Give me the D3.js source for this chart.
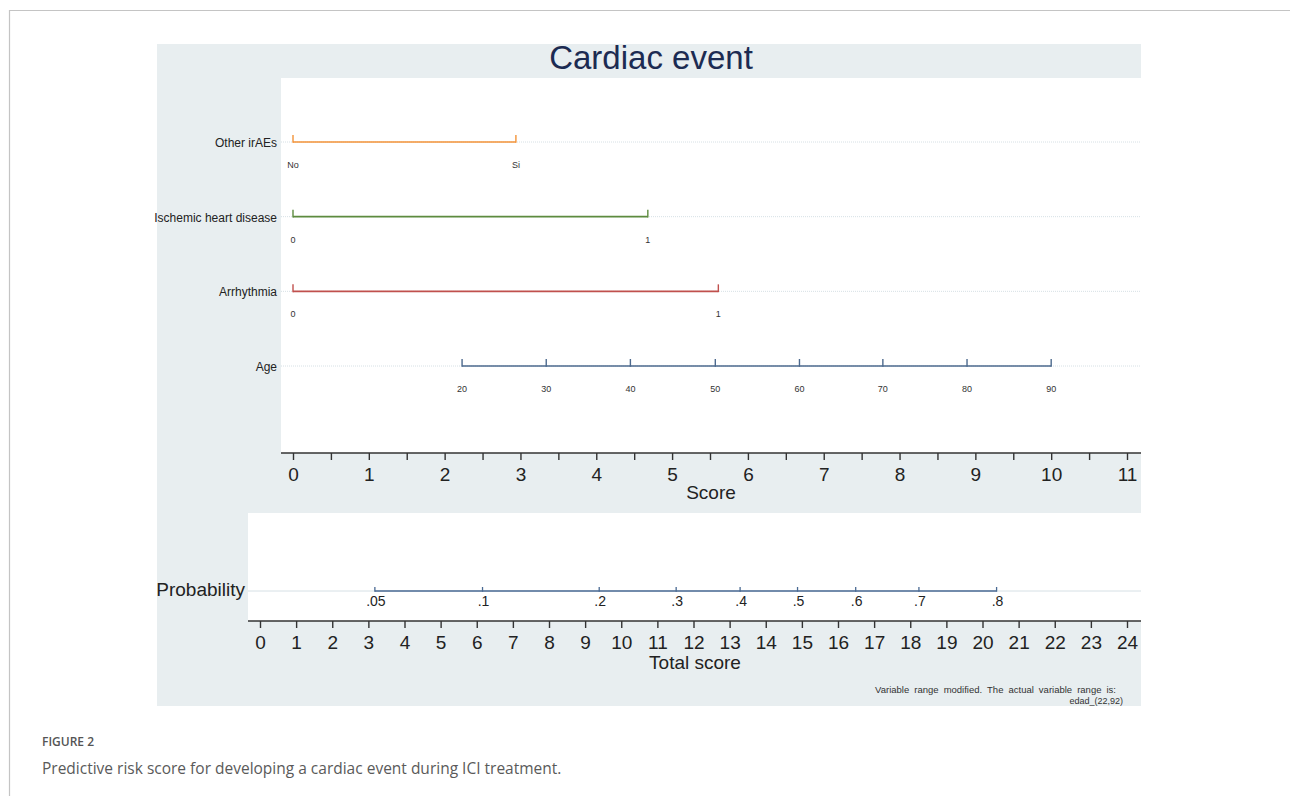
<!DOCTYPE html>
<html lang="en">
<head>
    <meta charset="UTF-8">
    <title>Cardiac event nomogram</title>
    <style>
        body, html {
            margin: 0;
            padding: 0;
            background: #fff;
            font-family: "Liberation Sans", Arial, sans-serif;
        }
        #chart { width: 1290px; height: 796px; }
        .axis text { font-family: "Liberation Sans", Arial, sans-serif; fill: #222; }
    </style>
    <script src="https://d3js.org/d3.v7.min.js"></script>
</head>
<body>
    <div id="chart"></div>
    <script>
        // predictors, top to bottom
        const rowNames = ["Other irAEs", "Ischemic heart disease", "Arrhythmia", "Age"];
        const rowColors = ["#f39339", "#5d8b3f", "#c0504d", "#4d6a8e"];

        // level labels and the score each level sits at
        const otherLevels = ["No", "Si"];
        const otherScores = [0, 2.94];
        const ischemicLevels = ["0", "1"];
        const ischemicScores = [0, 4.68];
        const arrhythmiaLevels = ["0", "1"];
        const arrhythmiaScores = [0, 5.61];
        const ageLevels = ["20", "30", "40", "50", "60", "70", "80", "90"];
        const ageScores = [2.23, 3.34, 4.45, 5.57, 6.68, 7.78, 8.89, 10.0];

        // probability scale against the total score
        const probLabels = [".05", ".1", ".2", ".3", ".4", ".5", ".6", ".7", ".8"];
        const probTotals = [3.18, 6.16, 9.39, 11.52, 13.29, 14.88, 16.49, 18.24, 20.39];

        const scoreMax = 11;
        const totalMax = 24;

        const rows = [
            { levels: otherLevels, scores: otherScores },
            { levels: ischemicLevels, scores: ischemicScores },
            { levels: arrhythmiaLevels, scores: arrhythmiaScores },
            { levels: ageLevels, scores: ageScores }
        ];

        const width = 1290, height = 796;
        const svg = d3.select("#chart").append("svg")
            .attr("width", width)
            .attr("height", height);

        // page frame
        svg.append("path")
            .attr("d", "M9.5,796 V10.5 H1290")
            .attr("fill", "none")
            .attr("stroke", "#c4c4c4")
            .attr("stroke-width", 1.2);

        // graph region
        svg.append("rect")
            .attr("x", 157).attr("y", 44)
            .attr("width", 984).attr("height", 662)
            .attr("fill", "#e8eef0");

        svg.append("text")
            .attr("x", 651).attr("y", 69)
            .attr("text-anchor", "middle")
            .style("font-size", "33px")
            .style("fill", "#1c2b52")
            .text("Cardiac event");

        // ---------- upper panel: points ----------
        const plotLeft = 281, plotRight = 1141, plotTop = 78, axisY = 453;
        svg.append("rect")
            .attr("x", plotLeft).attr("y", plotTop)
            .attr("width", plotRight - plotLeft).attr("height", axisY - plotTop)
            .attr("fill", "#fff");

        const scoreX = d3.scaleLinear().domain([0, scoreMax]).range([293, 1127]);
        const rowY = d3.scalePoint().domain(rowNames).range([142, 366]);

        // faint row guides
        svg.selectAll(".guide")
            .data(rowNames)
            .join("line")
            .attr("class", "guide")
            .attr("x1", plotLeft).attr("x2", plotRight)
            .attr("y1", d => rowY(d)).attr("y2", d => rowY(d))
            .attr("stroke", "#d6e0e5")
            .attr("stroke-dasharray", "1,1");

        svg.selectAll(".rowLabel")
            .data(rowNames)
            .join("text")
            .attr("class", "rowLabel")
            .attr("x", 277)
            .attr("y", d => rowY(d) + 5)
            .attr("text-anchor", "end")
            .style("font-size", "12px")
            .style("fill", "#222")
            .text(d => d);

        rows.forEach((r, i) => {
            const y = rowY(rowNames[i]);
            const g = svg.append("g");
            g.append("line")
                .attr("x1", scoreX(d3.min(r.scores)))
                .attr("x2", scoreX(d3.max(r.scores)))
                .attr("y1", y).attr("y2", y)
                .attr("stroke", rowColors[i])
                .attr("stroke-width", 1.6);
            g.selectAll("line.tk")
                .data(r.scores)
                .join("line")
                .attr("class", "tk")
                .attr("x1", d => scoreX(d)).attr("x2", d => scoreX(d))
                .attr("y1", y + 0.8).attr("y2", y - 7)
                .attr("stroke", rowColors[i])
                .attr("stroke-width", 1.4);
            g.selectAll("text")
                .data(r.levels)
                .join("text")
                .attr("x", (d, j) => scoreX(r.scores[j]))
                .attr("y", y + 26)
                .attr("text-anchor", "middle")
                .style("font-size", "9px")
                .style("fill", "#333")
                .text(d => d);
        });

        // score axis
        svg.append("line")
            .attr("x1", plotLeft).attr("x2", plotRight)
            .attr("y1", axisY).attr("y2", axisY)
            .attr("stroke", "#333").attr("stroke-width", 1.4);

        const scoreAxis = d3.axisBottom(scoreX)
            .tickValues(d3.range(0, scoreMax + 0.5, 0.5))
            .tickFormat(d => Number.isInteger(d) ? d : "")
            .tickSize(7)
            .tickSizeOuter(0)
            .tickPadding(8);

        const sa = svg.append("g")
            .attr("class", "axis")
            .attr("transform", `translate(0,${axisY})`)
            .call(scoreAxis);
        sa.select(".domain").remove();
        sa.selectAll("line").attr("stroke", "#333").attr("stroke-width", 1.4);
        sa.selectAll("text").style("font-size", "19px");

        svg.append("text")
            .attr("x", 711).attr("y", 499)
            .attr("text-anchor", "middle")
            .style("font-size", "19px")
            .style("fill", "#222")
            .text("Score");

        // ---------- lower panel: total score and probability ----------
        const lowLeft = 248, lowTop = 513, lowAxisY = 621, probY = 591;
        svg.append("rect")
            .attr("x", lowLeft).attr("y", lowTop)
            .attr("width", plotRight - lowLeft).attr("height", lowAxisY - lowTop)
            .attr("fill", "#fff");

        const totalX = d3.scaleLinear().domain([0, totalMax]).range([260, 1127]);

        svg.append("line")
            .attr("x1", lowLeft).attr("x2", plotRight)
            .attr("y1", probY).attr("y2", probY)
            .attr("stroke", "#d6e0e5");

        svg.append("text")
            .attr("x", 245).attr("y", 596)
            .attr("text-anchor", "end")
            .style("font-size", "19px")
            .style("fill", "#222")
            .text("Probability");

        svg.append("line")
            .attr("x1", totalX(d3.min(probTotals)))
            .attr("x2", totalX(d3.max(probTotals)))
            .attr("y1", probY).attr("y2", probY)
            .attr("stroke", "#4a6a93")
            .attr("stroke-width", 1.5);

        svg.selectAll(".probTick")
            .data(probTotals)
            .join("line")
            .attr("class", "probTick")
            .attr("x1", d => totalX(d)).attr("x2", d => totalX(d))
            .attr("y1", probY + 0.7).attr("y2", probY - 4)
            .attr("stroke", "#4a6a93")
            .attr("stroke-width", 1.3);

        svg.selectAll(".probLabel")
            .data(probLabels)
            .join("text")
            .attr("class", "probLabel")
            .attr("x", (d, i) => totalX(probTotals[i]) + 1)
            .attr("y", probY + 15)
            .attr("text-anchor", "middle")
            .style("font-size", "14px")
            .style("fill", "#222")
            .text(d => d);

        svg.append("line")
            .attr("x1", lowLeft).attr("x2", plotRight)
            .attr("y1", lowAxisY).attr("y2", lowAxisY)
            .attr("stroke", "#333").attr("stroke-width", 1.4);

        const totalAxis = d3.axisBottom(totalX)
            .ticks(totalMax)
            .tickFormat(d3.format("d"))
            .tickSize(7)
            .tickSizeOuter(0)
            .tickPadding(8);

        const ta = svg.append("g")
            .attr("class", "axis")
            .attr("transform", `translate(0,${lowAxisY})`)
            .call(totalAxis);
        ta.select(".domain").remove();
        ta.selectAll("line").attr("stroke", "#333").attr("stroke-width", 1.4);
        ta.selectAll("text").style("font-size", "19px");

        svg.append("text")
            .attr("x", 695).attr("y", 669)
            .attr("text-anchor", "middle")
            .style("font-size", "19px")
            .style("fill", "#222")
            .text("Total score");

        // note
        svg.append("text")
            .attr("x", 1116).attr("y", 693)
            .attr("text-anchor", "end")
            .style("font-size", "9.5px")
            .style("word-spacing", "2.4px")
            .style("fill", "#333")
            .text("Variable range modified.  The actual  variable range is:");
        svg.append("text")
            .attr("x", 1123).attr("y", 704)
            .attr("text-anchor", "end")
            .style("font-size", "9px")
            .style("fill", "#333")
            .text("edad_(22,92)");

        // caption
        svg.append("text")
            .attr("x", 42).attr("y", 746)
            .style("font-family", "'Open Sans', sans-serif")
            .style("font-size", "12px")
            .style("font-weight", 600)
            .style("fill", "#555")
            .text("FIGURE 2");
        svg.append("text")
            .attr("x", 42).attr("y", 774)
            .style("font-family", "'Open Sans', sans-serif")
            .style("font-size", "15.5px")
            .style("fill", "#5a5a5a")
            .text("Predictive risk score for developing a cardiac event during ICI treatment.");
    </script>
</body>
</html>
